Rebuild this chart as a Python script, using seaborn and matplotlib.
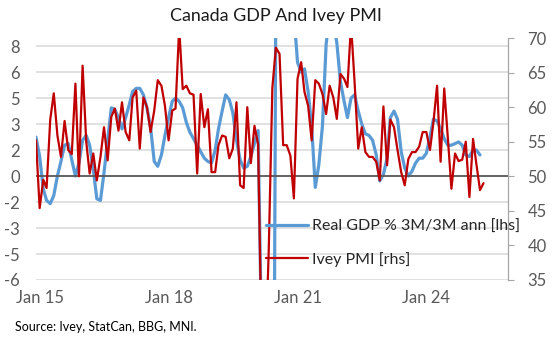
import numpy as np
import pandas as pd
import matplotlib
matplotlib.use("Agg")
import matplotlib.pyplot as plt
import seaborn as sns
from matplotlib.lines import Line2D

# ---------------- data ----------------
start_month = "2014-12-01"

gdp_3m3m_ann = [
    2.4, 1.2, -0.8, -1.5, -1.7, -1.2, 0.0, 0.9, 1.9, 2.0, 1.0, 0.0,      # Dec14-Nov15
    0.8, 2.2, 2.5, 1.9, 0.4, -1.4, -1.5, 0.2, 2.2, 4.2, 4.1, 3.6,        # Dec15-Nov16
    2.9, 3.6, 4.4, 5.2, 5.4, 5.4, 5.0, 4.2, 3.0, 0.9, 0.6, 1.3,          # Dec16-Nov17
    2.5, 3.6, 4.6, 4.8, 4.6, 4.2, 3.3, 2.7, 2.3, 1.9, 1.5, 1.1,          # Dec17-Nov18
    0.9, 0.8, 1.6, 2.9, 4.0, 5.0, 4.7, 3.9, 2.2, 1.0, 0.5, 0.6,          # Dec18-Nov19
    1.2, 2.0, 2.8, -10.0, -40.0, -50.0, -38.0, 12.0, 45.0, 40.0, 30.0, 15.0,  # Dec19-Nov20
    10.0, 7.0, 6.4, 6.6, 5.2, 3.1, -0.7, 0.7, 3.1, 8.1, 10.0, 9.5,       # Dec20-Nov21
    8.2, 5.8, 4.6, 3.6, 4.8, 5.0, 4.0, 3.2, 2.6, 2.5, 2.2, 1.3,          # Dec21-Nov22
    -0.3, 0.1, 1.1, 3.6, 4.0, 3.5, 1.5, 0.5, 0.0, 0.3, 0.8, 1.1,         # Dec22-Nov23
    1.1, 1.4, 2.4, 3.5, 3.4, 2.9, 2.3, 1.9, 1.9, 2.0, 2.1, 1.9,          # Dec23-Nov24
    1.3, 1.2, 1.6, 1.6, 1.3,                                             # Dec24-Apr25
]

ivey_pmi = [
    55.2, 45.4, 49.5, 48.3, 58.2, 62.0, 55.9, 52.8, 58.0, 53.8, 53.2, 63.4,  # Dec14-Nov15
    50.0, 66.0, 55.0, 50.4, 53.3, 49.4, 52.8, 57.1, 52.3, 58.6, 59.8, 56.6,  # Dec15-Nov16
    60.7, 56.4, 55.2, 61.4, 62.4, 54.0, 61.4, 60.0, 56.4, 59.5, 63.9, 63.1,  # Dec16-Nov17
    60.2, 55.2, 59.5, 59.8, 71.5, 62.6, 63.1, 62.0, 61.8, 50.4, 61.9, 57.1,  # Dec17-Nov18
    59.7, 50.6, 50.6, 54.5, 55.9, 55.7, 52.6, 54.0, 60.7, 48.7, 48.3, 60.0,  # Dec18-Nov19
    51.9, 57.3, 54.6, 26.0, 22.8, 39.1, 62.8, 68.6, 67.7, 54.5, 54.5, 53.0,  # Dec19-Nov20
    46.8, 64.1, 66.5, 62.2, 60.2, 55.2, 63.9, 63.4, 61.9, 59.0, 63.1, 61.4,  # Dec20-Nov21
    58.3, 64.8, 64.1, 62.9, 72.0, 63.6, 54.0, 57.1, 53.5, 52.8, 52.8, 52.1,  # Dec21-Nov22
    49.4, 60.1, 51.6, 58.2, 57.1, 53.8, 50.6, 48.7, 52.5, 53.5, 53.5, 54.3,  # Dec22-Nov23
    56.4, 56.4, 53.8, 57.8, 63.1, 52.1, 62.7, 55.7, 48.2, 53.3, 52.2, 52.4,  # Dec23-Nov24
    55.0, 47.0, 55.4, 51.8, 48.0, 49.0,                                      # Dec24-May25
]

gdp_label = "Real GDP % 3M/3M ann [lhs]"
pmi_label = "Ivey PMI [rhs]"
title = "Canada GDP And Ivey PMI"
source = "Source: Ivey, StatCan, BBG, MNI."
xtick_years = [2015, 2018, 2021, 2024]
left_ticks = [-6.4, -4.8, -3.2, -1.6, 0.0, 1.6, 3.2, 4.8, 6.4, 8.0]
right_ticks = [35, 40, 45, 50, 55, 60, 65, 70]

# ---------------- frames ----------------
gdp_df = pd.DataFrame({
    "date": pd.date_range(start_month, periods=len(gdp_3m3m_ann), freq="MS"),
    "value": gdp_3m3m_ann,
})
pmi_df = pd.DataFrame({
    "date": pd.date_range(start_month, periods=len(ivey_pmi), freq="MS"),
    "value": ivey_pmi,
})

# ---------------- style ----------------
sns.set_style("white")
plt.rcParams["font.family"] = ["Lato", "DejaVu Sans"]

W, H = 553, 343
fig = plt.figure(figsize=(W / 100, H / 100), dpi=100)
L, R, T, B = 36, 508, 38, 280
ax = fig.add_axes([L / W, 1 - B / H, (R - L) / W, (B - T) / H])
ax2 = ax.twinx()

blue = "#5B9BD5"
red = "#C00000"
tick_col = "#595959"

sns.lineplot(data=gdp_df, x="date", y="value", ax=ax, color=blue,
             linewidth=2.3, label=gdp_label, legend=False, zorder=3)
ax.axhline(0, color="#595959", linewidth=1.3, zorder=4)
sns.lineplot(data=pmi_df, x="date", y="value", ax=ax2, color=red,
             linewidth=1.6, label=pmi_label, legend=False, zorder=3)

# axes limits
ax.set_xlim(pd.Timestamp("2014-12-01"), pd.Timestamp("2025-11-25"))
ax.set_ylim(-6.4, 8.5)
ax2.set_ylim(35, 70)

# left axis
ax.set_yticks(left_ticks)
ax.set_yticklabels([f"{np.round(v) + 0.0:.0f}" for v in left_ticks])
ax.tick_params(axis="y", length=0, pad=11.5, labelsize=12, labelcolor=tick_col)
ax.yaxis.grid(True, color="#D9D9D9", linewidth=1.1)
ax.set_axisbelow(True)

# x axis
xt = [pd.Timestamp(f"{y}-01-01") for y in xtick_years]
ax.set_xticks(xt)
ax.set_xticklabels([f"Jan {str(y)[2:]}" for y in xtick_years])
ax.tick_params(axis="x", length=0, pad=7, labelsize=12, labelcolor=tick_col)
ax.set_xlabel("")
ax.set_ylabel("")

# right axis
ax2.set_yticks(right_ticks)
ax2.tick_params(axis="y", length=4, width=0.8, color="#A6A6A6", direction="out",
                pad=10, labelsize=12, labelcolor=tick_col)
ax2.set_ylabel("")
ax2.grid(False)

for a in (ax, ax2):
    for s in a.spines.values():
        s.set_visible(False)
ax2.spines["right"].set_visible(True)
ax2.spines["right"].set_color("#A6A6A6")
ax2.spines["right"].set_linewidth(0.9)

# legend
handles = [Line2D([], [], color=blue, linewidth=2.3),
           Line2D([], [], color=red, linewidth=1.6)]
fig.legend(handles, [gdp_label, pmi_label], loc="center left",
           bbox_to_anchor=(266 / W, 1 - 243 / H), frameon=False,
           fontsize=11.5, handlelength=2.6, handletextpad=0.3,
           labelspacing=1.15, borderpad=0, borderaxespad=0,
           labelcolor="#262626")

fig.text(276 / W, 1 - 16 / H, title, ha="center", va="center",
         fontsize=12.9, color="#1a1a1a")
fig.text(15 / W, 1 - 327 / H, source, ha="left", va="center",
         fontsize=9.0, color="#000000")

fig.savefig("out.png", dpi=100, facecolor="white")
